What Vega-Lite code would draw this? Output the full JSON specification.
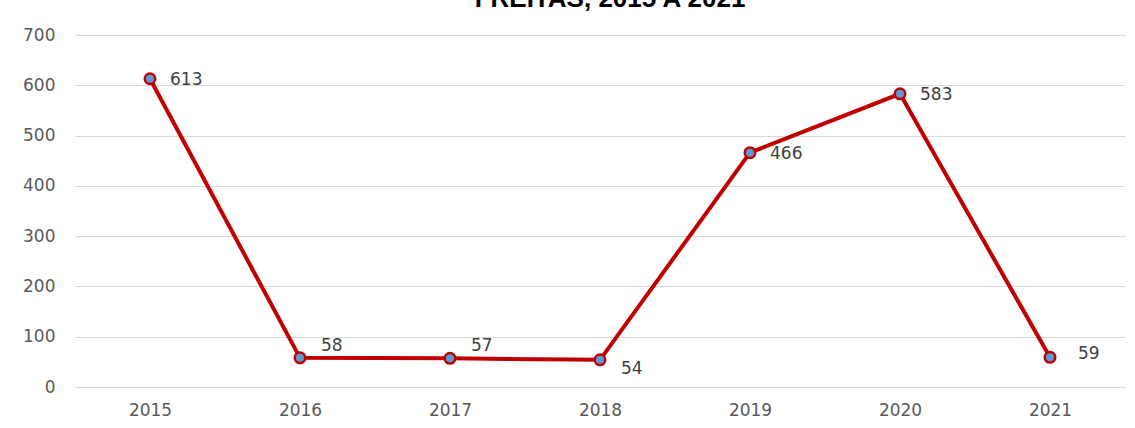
{
  "$schema": "https://vega.github.io/schema/vega-lite/v6.json",
  "autosize": "none",
  "width": 1050,
  "height": 352,
  "padding": {"left": 75, "top": 35, "right": 10, "bottom": 41},
  "background": "white",
  "title": {
    "text": "FREITAS, 2015 A 2021",
    "font": "Liberation Sans",
    "fontSize": 26,
    "fontWeight": "bold",
    "color": "#000000",
    "anchor": "middle",
    "offset": 14,
    "dx": 10
  },
  "config": {
    "view": {"stroke": null},
    "font": "DejaVu Sans"
  },
  "data": {
    "values": [
      {"year": "2015", "value": 613, "pos": "right"},
      {"year": "2016", "value": 58, "pos": "above"},
      {"year": "2017", "value": 57, "pos": "above"},
      {"year": "2018", "value": 54, "pos": "below"},
      {"year": "2019", "value": 466, "pos": "right"},
      {"year": "2020", "value": 583, "pos": "right"},
      {"year": "2021", "value": 59, "pos": "leader"}
    ]
  },
  "encoding": {
    "x": {
      "field": "year",
      "type": "ordinal",
      "scale": {"paddingInner": 0, "paddingOuter": 0.5},
      "axis": {
        "title": null,
        "labelAngle": 0,
        "labelFont": "DejaVu Sans",
        "labelFontSize": 17,
        "labelColor": "#595959",
        "labelPadding": 15,
        "ticks": false,
        "domainColor": "#D9D9D9",
        "grid": false
      }
    },
    "y": {
      "field": "value",
      "type": "quantitative",
      "scale": {"domain": [0, 700]},
      "axis": {
        "title": null,
        "values": [0, 100, 200, 300, 400, 500, 600, 700],
        "labelFont": "DejaVu Sans",
        "labelFontSize": 17,
        "labelColor": "#595959",
        "labelPadding": 20,
        "ticks": false,
        "domain": false,
        "gridColor": "#D9D9D9",
        "gridWidth": 1
      }
    }
  },
  "layer": [
    {
      "mark": {"type": "line", "color": "#C00000", "strokeWidth": 4}
    },
    {
      "mark": {"type": "point", "filled": true, "fill": "#5B9BD5", "stroke": "#C00000", "strokeWidth": 2.5, "size": 110, "opacity": 1}
    },
    {
      "transform": [{"filter": "datum.pos === 'right'"}],
      "mark": {"type": "text", "align": "left", "baseline": "middle", "dx": 20, "dy": 1, "fontSize": 17, "color": "#404040", "font": "DejaVu Sans"},
      "encoding": {"text": {"field": "value", "type": "quantitative"}}
    },
    {
      "transform": [{"filter": "datum.pos === 'leader'"}],
      "mark": {"type": "text", "align": "left", "baseline": "middle", "dx": 28, "dy": -3, "fontSize": 17, "color": "#404040", "font": "DejaVu Sans"},
      "encoding": {"text": {"field": "value", "type": "quantitative"}}
    },
    {
      "transform": [{"filter": "datum.pos === 'above'"}],
      "mark": {"type": "text", "align": "left", "baseline": "middle", "dx": 21, "dy": -12, "fontSize": 17, "color": "#404040", "font": "DejaVu Sans"},
      "encoding": {"text": {"field": "value", "type": "quantitative"}}
    },
    {
      "transform": [{"filter": "datum.pos === 'below'"}],
      "mark": {"type": "text", "align": "left", "baseline": "middle", "dx": 21, "dy": 9, "fontSize": 17, "color": "#404040", "font": "DejaVu Sans"},
      "encoding": {"text": {"field": "value", "type": "quantitative"}}
    }
  ]
}
